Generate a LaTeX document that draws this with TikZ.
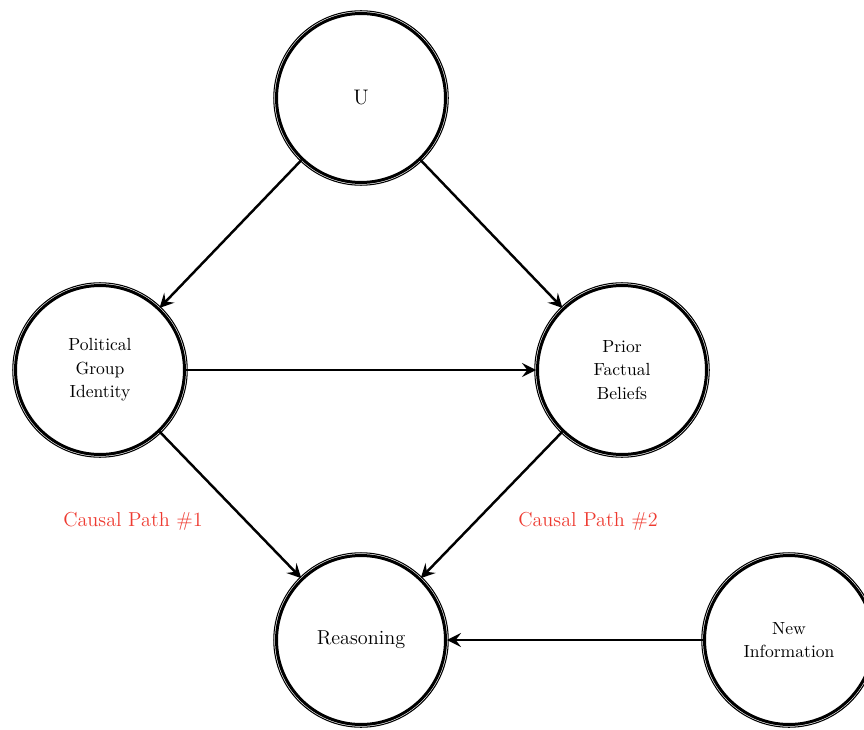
\documentclass[tikz,border=0pt]{standalone}
\usepackage{xcolor}
\usepackage{tikz}
\usetikzlibrary{arrows.meta}
\definecolor{pathred}{RGB}{238,58,48}

\begin{document}
\begin{tikzpicture}[x=0.02cm, y=-0.02cm,
		outring/.style = {circle, draw, line width=0.6pt, inner sep=0pt, minimum size=3.49cm},
		var/.style = {circle, draw, line width=1.7pt, align=center, minimum size=3.38cm,
			font=\fontsize{10}{13.4}\selectfont, label={[outring]center:}}]
				\useasboundingbox (0,0) rectangle (864,729);
				% variables
				\node[var] (U) at (361,98) {\fontsize{12}{14}\selectfont U};
				\node[var] (PG) at (100,370) {Political\\Group\\Identity};
				\node[var] (PF) at (622,370) {Prior\\Factual\\Beliefs};
				\node[var] (R) at (361,640) {\fontsize{11.5}{14}\selectfont Reasoning};
				\node[var] (NI) at (789,640) {New\\Information};
				\begin{scope}[every node/.style = {text=pathred, font=\fontsize{11.5}{14}\selectfont}]
					\node (CP1) at (133,521) {Causal Path \#1};
					\node (CP2) at (588,521) {Causal Path \#2};
				\end{scope}
				\begin{scope}[>={Stealth[black, length=8pt, width=8pt, inset=3pt]},
						every edge/.style={draw=black, line width=1.4pt}]
					\path [->] (U) edge (PG);
					\path [->] (U) edge (PF);
					\path [->] (PG) edge (PF);
					\path [->] (PG) edge (R);
					\path [->] (PF) edge (R);
					\path [->] (NI) edge (R);
				\end{scope}
			\end{tikzpicture}
\end{document}
